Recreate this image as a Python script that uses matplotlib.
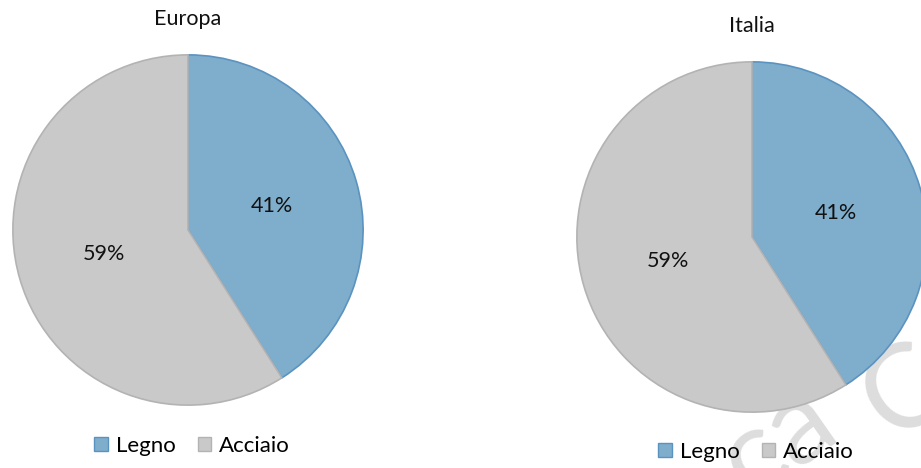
import matplotlib
matplotlib.use("Agg")
import matplotlib.pyplot as plt
from matplotlib.patches import Rectangle

plt.rcParams['font.family'] = ['Lato', 'DejaVu Sans']

W, H = 921, 468

categories = ["Legno", "Acciaio"]
titles = ["Europa", "Italia"]
europa_values = [41, 59]
italia_values = [41, 59]

fills = ["#7fadcc", "#c9c9c9"]
edges = ["#5b93c0", "#b3b3b3"]

fig = plt.figure(figsize=(W / 100, H / 100), dpi=100)
fig.patch.set_facecolor("white")


def px_axes(cx, cy, r):
    return fig.add_axes([(cx - r) / W, (H - cy - r) / H, 2 * r / W, 2 * r / H])


def draw_pie(ax, values, title, title_y, legend_xy):
    wedges, _, autotexts = ax.pie(
        values, colors=fills, startangle=90, counterclock=False,
        autopct=lambda p: f"{p:.0f}%", pctdistance=0.5, radius=1,
        wedgeprops=dict(linewidth=1.2),
        textprops=dict(fontsize=15.5, color="#111111"))
    for w, ec in zip(wedges, edges):
        w.set_edgecolor(ec)
    ax.set_xlim(-1.005, 1.005)
    ax.set_ylim(-1.005, 1.005)
    ax.set_aspect("equal")
    b = ax.get_position()
    fig.text((b.x0 + b.x1) / 2, 1 - title_y / H, title, ha="center",
             va="center", fontsize=15.5, color="#111111")
    handles = [Rectangle((0, 0), 1, 1, facecolor=f, edgecolor=e, linewidth=1)
               for f, e in zip(fills, edges)]
    fig.legend(handles, categories, loc="center",
               bbox_to_anchor=(legend_xy[0] / W, 1 - legend_xy[1] / H),
               ncol=2, frameon=False, fontsize=16, handlelength=0.62,
               handleheight=0.62, handletextpad=0.35, columnspacing=1.0)


# faint watermark lettering behind the right-hand chart
wm = dict(rotation=35, rotation_mode="anchor", fontsize=84,
          color="#dddddd", ha="left", va="baseline", zorder=-5)
fig.text(750 / W, 1 - 500 / H, "ca", **wm)
fig.text(893 / W, 1 - 442 / H, "C", **wm)

ax1 = px_axes(188, 230, 176)
draw_pie(ax1, europa_values, titles[0], 19, (192, 446))

ax2 = px_axes(752, 237, 176)
draw_pie(ax2, italia_values, titles[1], 26, (756, 452))

fig.savefig("out.png", dpi=100, facecolor="white")
